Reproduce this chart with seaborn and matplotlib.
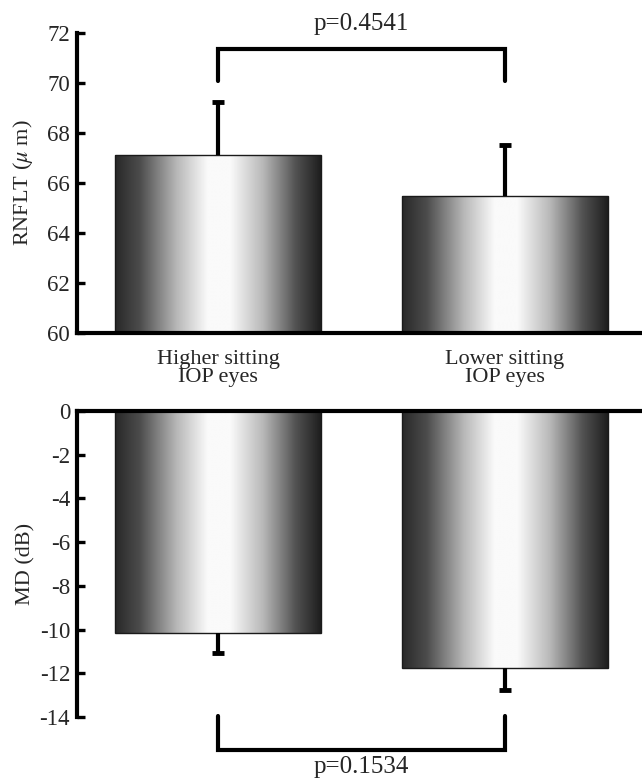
import numpy as np
import matplotlib
matplotlib.use("Agg")
import matplotlib.pyplot as plt
import seaborn as sns

categories = ["Higher sitting\nIOP eyes", "Lower sitting\nIOP eyes"]
rnflt_mean = [67.12, 65.48]
rnflt_err = [2.12, 2.04]
md_mean = [-10.16, -11.76]
md_err = [0.91, 1.00]
rnflt_ticks = [60, 62, 64, 66, 68, 70, 72]
md_ticks = [0, -2, -4, -6, -8, -10, -12, -14]
p_top = "p=0.4541"
p_bottom = "p=0.1534"

sns.set_theme(style="white")
plt.rcParams["font.family"] = ["Liberation Serif", "DejaVu Serif"]
plt.rcParams["mathtext.fontset"] = "stix"
plt.rcParams["axes.unicode_minus"] = False

fig = plt.figure(figsize=(6.42, 7.83), dpi=100)
W, H = 642, 783
ax1 = fig.add_axes([77 / W, 1 - 333 / H, 565 / W, 300 / H])
ax2 = fig.add_axes([77 / W, 1 - 717 / H, 565 / W, 306 / H])

# gradient profile for the cylinder-like bars
prof_x = [0.0, 0.12, 0.3, 0.45, 0.56, 0.72, 0.88, 1.0]
prof_v = [0.16, 0.3, 0.72, 0.98, 0.98, 0.72, 0.32, 0.12]
grad = np.interp(np.linspace(0, 1, 256), prof_x, prof_v)[None, :]

LW = 3.0


def draw_panel(ax, means, errs, ylim, ticks, up):
    sns.barplot(x=categories, y=means, ax=ax, width=0.715, color="white",
                edgecolor="#1a1a1a", linewidth=1.0, errorbar=None)
    ax.set_xlim(-0.491, 1.477)
    ax.set_ylim(*ylim)
    lo, hi = min(ylim), max(ylim)
    centers = []
    for p in ax.patches:
        p.set_facecolor("none")
        x0, y0 = p.get_x(), p.get_y()
        w, h = p.get_width(), p.get_height()
        yb, yt = min(y0, y0 + h), max(y0, y0 + h)
        yb, yt = max(yb, lo), min(yt, hi)
        ax.imshow(grad, cmap="gray", vmin=0, vmax=1, aspect="auto",
                  extent=[x0, x0 + w, yb, yt], zorder=0.5,
                  interpolation="bilinear")
        centers.append(x0 + w / 2)
    ax.set_xlim(-0.491, 1.477)
    ax.set_ylim(*ylim)
    sign = 1 if up else -1
    ends = [m + sign * e for m, e in zip(means, errs)]
    if up:
        yerr = [[0] * len(errs), errs]
    else:
        yerr = [errs, [0] * len(errs)]
    ax.errorbar(centers, means, yerr=yerr, fmt="none", ecolor="black",
                elinewidth=LW, capsize=0, zorder=3)
    ax.plot(centers, ends, linestyle="none", marker="_", markersize=8,
            markeredgewidth=3.5, color="black", zorder=3)
    ax.set_yticks(ticks)
    ax.set_yticklabels([str(t) for t in ticks])
    ax.tick_params(axis="y", direction="in", length=6, width=2.4,
                   labelsize=16.5, pad=5, left=True, color="black")
    ax.tick_params(axis="x", length=0)
    for s in ax.spines.values():
        s.set_linewidth(LW)
        s.set_color("black")
    return centers


c1 = draw_panel(ax1, rnflt_mean, rnflt_err, (60, 72), rnflt_ticks, True)
ax1.spines["top"].set_visible(False)
ax1.spines["right"].set_visible(False)
ax1.set_xticks([0, 1])
ax1.set_xticklabels(categories, fontsize=16, linespacing=0.92)
ax1.tick_params(axis="x", pad=12)
ax1.set_ylabel("RNFLT ($\\mu$ m)", fontsize=16)
ax1.yaxis.set_label_coords(-0.074, 0.5)
ax1.plot([c1[0], c1[0], c1[1], c1[1]], [70.1, 71.36, 71.36, 70.1],
         color="black", lw=LW, clip_on=False, solid_joinstyle="miter")
ax1.text(0.5, 72.35, p_top, ha="center", va="center", fontsize=18,
         clip_on=False)

c2 = draw_panel(ax2, md_mean, md_err, (-14, 0), md_ticks, False)
ax2.spines["bottom"].set_visible(False)
ax2.spines["right"].set_visible(False)
ax2.set_xticks([])
ax2.set_ylabel("MD (dB)", fontsize=16)
ax2.yaxis.set_label_coords(-0.074, 0.5)
ax2.plot([c2[0], c2[0], c2[1], c2[1]], [-13.95, -15.5, -15.5, -13.95],
         color="black", lw=LW, clip_on=False, solid_joinstyle="miter")
ax2.text(0.5, -16.3, p_bottom, ha="center", va="center", fontsize=18,
         clip_on=False)

fig.savefig("out.png", dpi=100)
